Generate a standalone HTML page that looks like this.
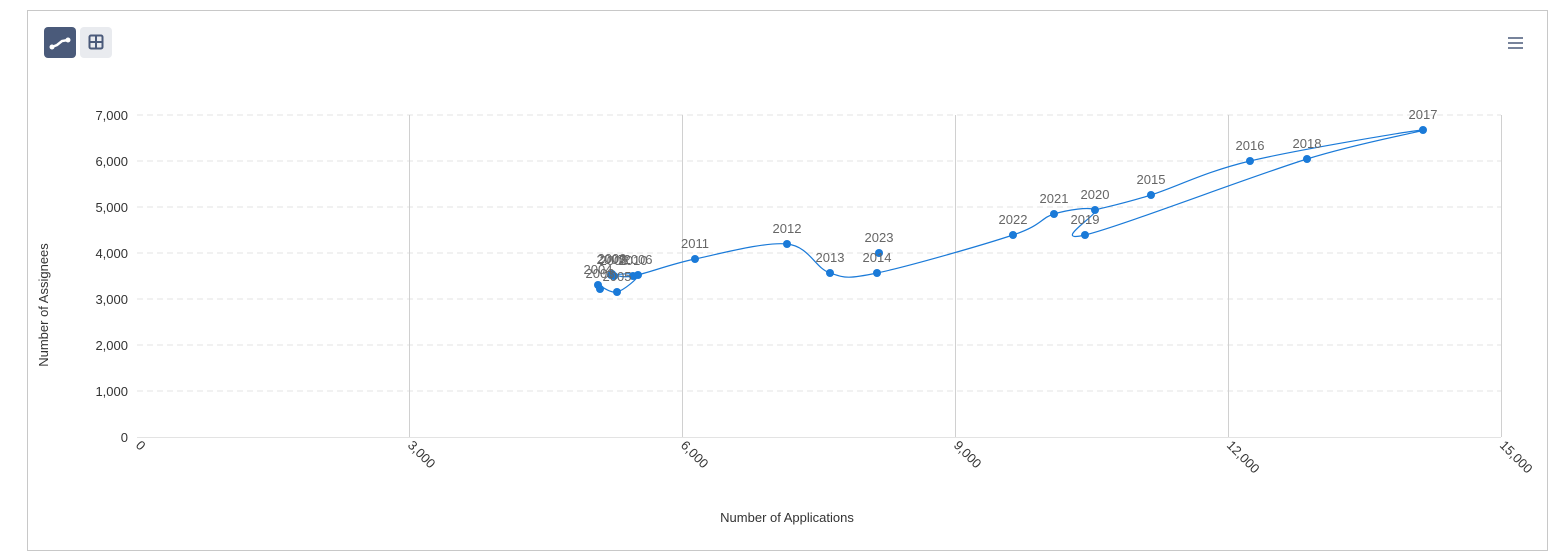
<!DOCTYPE html>
<html><head><meta charset="utf-8"><style>
body{margin:0;background:#fff;font-family:"Liberation Sans",sans-serif;}
</style></head><body>
<svg width="1558" height="554" xmlns="http://www.w3.org/2000/svg" font-family="Liberation Sans, sans-serif">
<rect x="27.5" y="10.5" width="1520" height="540" fill="#fff" stroke="#c8c8c8"/>
<rect x="44" y="27" width="32" height="31" rx="4" fill="#4a5a7a"/>
<path d="M52 47 L57 45 L62 41 L68 40" stroke="#fff" stroke-width="2.5" fill="none" stroke-linecap="round"/>
<circle cx="52" cy="47" r="2.5" fill="#fff"/><circle cx="68" cy="40" r="2.5" fill="#fff"/>
<rect x="80" y="27" width="32" height="31" rx="4" fill="#e9ebef"/>
<rect x="89.5" y="35.5" width="13" height="13" rx="1.5" fill="none" stroke="#4a5a7a" stroke-width="2"/>
<path d="M96 36 V48 M90 42 H102" stroke="#4a5a7a" stroke-width="2"/>
<g stroke="#4a5a7a" stroke-width="1.6"><path d="M1508 38H1523M1508 43H1523M1508 48H1523"/></g>
<g stroke="#e3e3e3" stroke-dasharray="6,4">
<line x1="137" x2="1501" y1="115" y2="115"/><line x1="137" x2="1501" y1="161" y2="161"/><line x1="137" x2="1501" y1="207" y2="207"/><line x1="137" x2="1501" y1="253" y2="253"/><line x1="137" x2="1501" y1="299" y2="299"/><line x1="137" x2="1501" y1="345" y2="345"/><line x1="137" x2="1501" y1="391" y2="391"/>
</g>
<g stroke="#d0d0d0"><line x1="409.5" x2="409.5" y1="115" y2="437"/><line x1="682.5" x2="682.5" y1="115" y2="437"/><line x1="955.5" x2="955.5" y1="115" y2="437"/><line x1="1228.5" x2="1228.5" y1="115" y2="437"/><line x1="1501.5" x2="1501.5" y1="115" y2="437"/>
<line x1="137" x2="1501" y1="437.5" y2="437.5" stroke="#e3e3e3"/></g>
<g font-size="13" fill="#333" text-anchor="end">
<text x="128" y="120">7,000</text><text x="128" y="166">6,000</text><text x="128" y="212">5,000</text><text x="128" y="258">4,000</text><text x="128" y="304">3,000</text><text x="128" y="350">2,000</text><text x="128" y="396">1,000</text><text x="128" y="442">0</text>
</g>
<g font-size="13" fill="#333">
<text transform="translate(135,446) rotate(45)">0</text>
<text transform="translate(407,446) rotate(45)">3,000</text>
<text transform="translate(680,446) rotate(45)">6,000</text>
<text transform="translate(953,446) rotate(45)">9,000</text>
<text transform="translate(1226,446) rotate(45)">12,000</text>
<text transform="translate(1499,446) rotate(45)">15,000</text>
</g>
<text x="787" y="522" font-size="13" fill="#333" text-anchor="middle">Number of Applications</text>
<text transform="translate(48,305) rotate(-90)" font-size="13" fill="#333" text-anchor="middle">Number of Assignees</text>
<path id="ln" fill="none" stroke="#1a7ad8" stroke-width="1.2"/>
<g id="pts" fill="#1a7ad8"></g>
<g id="lbl" font-size="13" fill="#666" text-anchor="middle"></g>
</svg>
<script>
var P=[[600,289],[598,285],[617,292],[638,275],[611,275],[614,276],[612,274],[633,276],[695,259],[787,244],[830,273],[877,273],[1013,235],[1054,214],[1095,210],[1085,235],[1307,159],[1423,130],[1250,161],[1151,195],[1095,210]];
var d="M"+P[0];
for(var i=0;i<P.length-1;i++){var p0=P[i-1]||P[i],p1=P[i],p2=P[i+1],p3=P[i+2]||p2;
d+=" C"+(p1[0]+(p2[0]-p0[0])/6)+","+(p1[1]+(p2[1]-p0[1])/6)+" "+(p2[0]-(p3[0]-p1[0])/6)+","+(p2[1]-(p3[1]-p1[1])/6)+" "+p2;}
document.getElementById("ln").setAttribute("d",d);
var L=[["2004",598,285],["2003",600,289],["2005",617,292],["2007",611,275],["2008",614,276],["2009",612,274],["2010",633,276],["2006",638,275],["2011",695,259],["2012",787,244],["2013",830,273],["2014",877,273],["2023",879,253],["2022",1013,235],["2021",1054,214],["2020",1095,210],["2019",1085,235],["2015",1151,195],["2016",1250,161],["2018",1307,159],["2017",1423,130]];
var g=document.getElementById("pts"),t=document.getElementById("lbl"),ns="http://www.w3.org/2000/svg";
L.forEach(function(a){var c=document.createElementNS(ns,"circle");c.setAttribute("cx",a[1]);c.setAttribute("cy",a[2]);c.setAttribute("r",4);g.appendChild(c);
var x=document.createElementNS(ns,"text");x.setAttribute("x",a[1]);x.setAttribute("y",a[0]=="2019"?a[2]-11:a[2]-11);x.textContent=a[0];t.appendChild(x);});
</script>
</body></html>
